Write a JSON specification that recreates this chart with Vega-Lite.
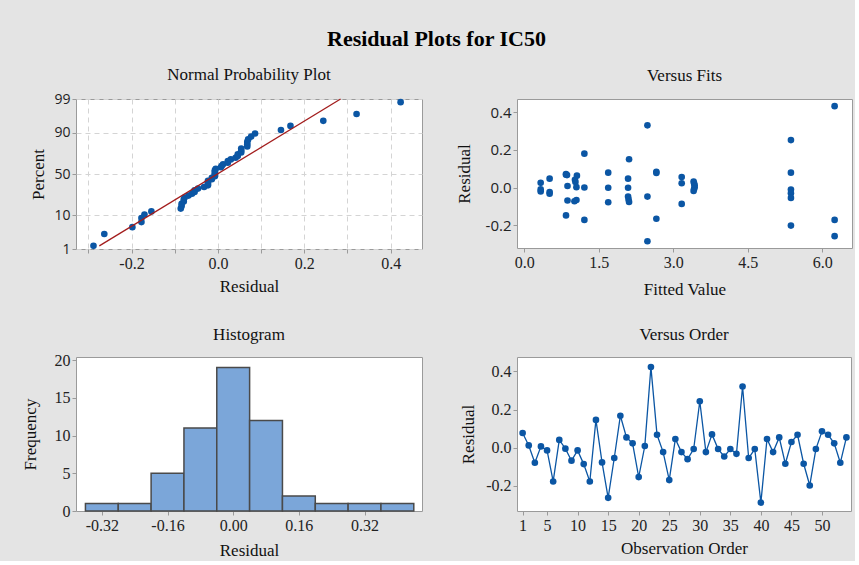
{
  "$schema": "https://vega.github.io/schema/vega-lite/v6.json",
  "background": "#e4e4e4",
  "padding": {"left": 20, "top": 28, "right": 2, "bottom": 2},
  "title": {"text": "Residual Plots for IC50", "font": "Liberation Serif", "fontSize": 22, "fontWeight": "bold", "anchor": "middle", "frame": "bounds", "color": "#000000", "offset": 14.5},
  "datasets": {
    "order": [
      {"obs": 1, "residual": 0.077}, {"obs": 2, "residual": 0.012}, {"obs": 3, "residual": -0.079}, {"obs": 4, "residual": 0.007},
      {"obs": 5, "residual": -0.014}, {"obs": 6, "residual": -0.177}, {"obs": 7, "residual": 0.041}, {"obs": 8, "residual": -0.005},
      {"obs": 9, "residual": -0.068}, {"obs": 10, "residual": -0.014}, {"obs": 11, "residual": -0.086}, {"obs": 12, "residual": -0.177},
      {"obs": 13, "residual": 0.146}, {"obs": 14, "residual": -0.077}, {"obs": 15, "residual": -0.263}, {"obs": 16, "residual": -0.054},
      {"obs": 17, "residual": 0.168}, {"obs": 18, "residual": 0.054}, {"obs": 19, "residual": 0.023}, {"obs": 20, "residual": -0.154},
      {"obs": 21, "residual": 0.009}, {"obs": 22, "residual": 0.423}, {"obs": 23, "residual": 0.068}, {"obs": 24, "residual": -0.023},
      {"obs": 25, "residual": -0.170}, {"obs": 26, "residual": 0.046}, {"obs": 27, "residual": -0.023}, {"obs": 28, "residual": -0.060},
      {"obs": 29, "residual": -0.007}, {"obs": 30, "residual": 0.244}, {"obs": 31, "residual": -0.023}, {"obs": 32, "residual": 0.070},
      {"obs": 33, "residual": -0.007}, {"obs": 34, "residual": -0.046}, {"obs": 35, "residual": -0.007}, {"obs": 36, "residual": -0.032},
      {"obs": 37, "residual": 0.321}, {"obs": 38, "residual": -0.054}, {"obs": 39, "residual": -0.007}, {"obs": 40, "residual": -0.288},
      {"obs": 41, "residual": 0.046}, {"obs": 42, "residual": -0.023}, {"obs": 43, "residual": 0.054}, {"obs": 44, "residual": -0.084},
      {"obs": 45, "residual": 0.030}, {"obs": 46, "residual": 0.068}, {"obs": 47, "residual": -0.084}, {"obs": 48, "residual": -0.198},
      {"obs": 49, "residual": -0.007}, {"obs": 50, "residual": 0.086}, {"obs": 51, "residual": 0.068}, {"obs": 52, "residual": 0.023},
      {"obs": 53, "residual": -0.079}, {"obs": 54, "residual": 0.054}
    ],
    "prob": [
      {"residual": -0.288, "z": -2.229}, {"residual": -0.263, "z": -1.8627}, {"residual": -0.198, "z": -1.6484}, {"residual": -0.177, "z": -1.4907},
      {"residual": -0.177, "z": -1.3633}, {"residual": -0.170, "z": -1.2548}, {"residual": -0.154, "z": -1.1593}, {"residual": -0.086, "z": -1.0734},
      {"residual": -0.084, "z": -0.9948}, {"residual": -0.084, "z": -0.9219}, {"residual": -0.079, "z": -0.8535}, {"residual": -0.079, "z": -0.7889},
      {"residual": -0.077, "z": -0.7275}, {"residual": -0.068, "z": -0.6687}, {"residual": -0.060, "z": -0.6122}, {"residual": -0.054, "z": -0.5575},
      {"residual": -0.054, "z": -0.5044}, {"residual": -0.046, "z": -0.4528}, {"residual": -0.032, "z": -0.4023}, {"residual": -0.023, "z": -0.3528},
      {"residual": -0.023, "z": -0.3041}, {"residual": -0.023, "z": -0.2562}, {"residual": -0.023, "z": -0.2088}, {"residual": -0.014, "z": -0.1620},
      {"residual": -0.014, "z": -0.1154}, {"residual": -0.007, "z": -0.0692}, {"residual": -0.007, "z": -0.0230}, {"residual": -0.007, "z": 0.0230},
      {"residual": -0.007, "z": 0.0692}, {"residual": -0.007, "z": 0.1154}, {"residual": -0.005, "z": 0.1620}, {"residual": 0.007, "z": 0.2088},
      {"residual": 0.009, "z": 0.2562}, {"residual": 0.012, "z": 0.3041}, {"residual": 0.023, "z": 0.3528}, {"residual": 0.023, "z": 0.4023},
      {"residual": 0.030, "z": 0.4528}, {"residual": 0.041, "z": 0.5044}, {"residual": 0.046, "z": 0.5575}, {"residual": 0.046, "z": 0.6122},
      {"residual": 0.054, "z": 0.6687}, {"residual": 0.054, "z": 0.7275}, {"residual": 0.054, "z": 0.7889}, {"residual": 0.068, "z": 0.8535},
      {"residual": 0.068, "z": 0.9219}, {"residual": 0.068, "z": 0.9948}, {"residual": 0.070, "z": 1.0734}, {"residual": 0.077, "z": 1.1593},
      {"residual": 0.086, "z": 1.2548}, {"residual": 0.146, "z": 1.3633}, {"residual": 0.168, "z": 1.4907}, {"residual": 0.244, "z": 1.6484},
      {"residual": 0.321, "z": 1.8627}, {"residual": 0.423, "z": 2.229}
    ],
    "fitline": [
      {"residual": -0.2745, "z": -2.229}, {"residual": 0.284, "z": 2.3263}
    ],
    "fits": [
      {"fitted": 0.33, "residual": 0.025}, {"fitted": 0.33, "residual": -0.010}, {"fitted": 0.33, "residual": -0.021},
      {"fitted": 0.51, "residual": 0.047}, {"fitted": 0.51, "residual": -0.024}, {"fitted": 0.51, "residual": -0.033},
      {"fitted": 0.84, "residual": 0.072}, {"fitted": 0.86, "residual": 0.066}, {"fitted": 0.87, "residual": 0.008},
      {"fitted": 0.87, "residual": -0.069}, {"fitted": 0.84, "residual": -0.148}, {"fitted": 0.84, "residual": 0.068},
      {"fitted": 1.06, "residual": 0.063}, {"fitted": 1.02, "residual": 0.041}, {"fitted": 1.03, "residual": 0.029},
      {"fitted": 1.05, "residual": 0.002}, {"fitted": 1.05, "residual": -0.066}, {"fitted": 1.01, "residual": -0.073},
      {"fitted": 1.21, "residual": 0.180}, {"fitted": 1.21, "residual": 0.000}, {"fitted": 1.21, "residual": -0.172},
      {"fitted": 1.69, "residual": 0.079}, {"fitted": 1.69, "residual": -0.001}, {"fitted": 1.69, "residual": -0.078},
      {"fitted": 2.11, "residual": 0.150}, {"fitted": 2.09, "residual": 0.047}, {"fitted": 2.09, "residual": -0.001},
      {"fitted": 2.09, "residual": -0.048}, {"fitted": 2.10, "residual": -0.063}, {"fitted": 2.11, "residual": -0.077},
      {"fitted": 2.48, "residual": 0.330}, {"fitted": 2.48, "residual": -0.048}, {"fitted": 2.48, "residual": -0.285},
      {"fitted": 2.66, "residual": 0.084}, {"fitted": 2.66, "residual": 0.077}, {"fitted": 2.66, "residual": -0.166},
      {"fitted": 3.17, "residual": 0.056}, {"fitted": 3.17, "residual": 0.023}, {"fitted": 3.17, "residual": -0.087},
      {"fitted": 3.41, "residual": 0.032}, {"fitted": 3.42, "residual": 0.022}, {"fitted": 3.43, "residual": 0.012},
      {"fitted": 3.43, "residual": 0.002}, {"fitted": 3.42, "residual": -0.008}, {"fitted": 3.41, "residual": -0.018},
      {"fitted": 5.37, "residual": 0.252}, {"fitted": 5.37, "residual": 0.079}, {"fitted": 5.37, "residual": -0.011},
      {"fitted": 5.37, "residual": -0.030}, {"fitted": 5.37, "residual": -0.055}, {"fitted": 5.37, "residual": -0.202},
      {"fitted": 6.25, "residual": 0.432}, {"fitted": 6.25, "residual": -0.172}, {"fitted": 6.25, "residual": -0.258}
    ],
    "hist": [
      {"bin_start": -0.36, "bin_end": -0.28, "count": 1},
      {"bin_start": -0.28, "bin_end": -0.20, "count": 1},
      {"bin_start": -0.20, "bin_end": -0.12, "count": 5},
      {"bin_start": -0.12, "bin_end": -0.04, "count": 11},
      {"bin_start": -0.04, "bin_end": 0.04, "count": 19},
      {"bin_start": 0.04, "bin_end": 0.12, "count": 12},
      {"bin_start": 0.12, "bin_end": 0.20, "count": 2},
      {"bin_start": 0.20, "bin_end": 0.28, "count": 1},
      {"bin_start": 0.28, "bin_end": 0.36, "count": 1},
      {"bin_start": 0.36, "bin_end": 0.44, "count": 1}
    ]
  },
  "bounds": "flush",
  "columns": 2,
  "spacing": {"row": 108, "column": 95},
  "concat": [
    {
      "width": 346, "height": 150,
      "title": {"text": "Normal Probability Plot", "offset": 8},
      "layer": [
        {
          "data": {"name": "prob"},
          "mark": {"type": "point", "filled": true, "size": 44, "color": "#0b56a4", "opacity": 1},
          "encoding": {
            "x": {"field": "residual", "type": "quantitative", "scale": {"domain": [-0.3285, 0.4725], "nice": false, "zero": false},
              "axis": {"title": "Residual", "values": [-0.3, -0.2, -0.1, 0, 0.1, 0.2, 0.3, 0.4], "tickCount": 20, "labelExpr": "abs(round(datum.value*10))%2==0 ? format(datum.value, '.1f') : ''", "grid": true, "titleY": 37}},
            "y": {"field": "z", "type": "quantitative", "scale": {"domain": [-2.3263, 2.3263], "nice": false, "zero": false},
              "axis": {"title": "Percent", "values": [-2.3263, -1.2816, 0, 1.2816, 2.3263], "tickCount": 20, "labelExpr": "datum.value < -2 ? '1' : datum.value < -1 ? '10' : datum.value < 1 ? '50' : datum.value < 2 ? '90' : '99'", "grid": true, "labelFont": "Open Sans", "labelFontSize": 14, "titleX": -38}}
          }
        },
        {
          "data": {"name": "fitline"},
          "mark": {"type": "line", "color": "#a31d1d", "strokeWidth": 1.3},
          "encoding": {
            "x": {"field": "residual", "type": "quantitative"},
            "y": {"field": "z", "type": "quantitative"}
          }
        }
      ]
    },
    {
      "width": 335, "height": 149,
      "title": {"text": "Versus Fits", "offset": 14},
      "layer": [
        {
          "mark": {"type": "rule", "strokeDash": [6, 4], "color": "#a8a8a8", "strokeWidth": 1.6},
          "encoding": {"y": {"datum": 0, "type": "quantitative"}}
        },
        {
          "data": {"name": "fits"},
          "mark": {"type": "point", "filled": true, "size": 44, "color": "#0b56a4", "opacity": 1},
          "encoding": {
            "x": {"field": "fitted", "type": "quantitative", "scale": {"domain": [-0.147, 6.6], "nice": false, "zero": false},
              "axis": {"title": "Fitted Value", "values": [0, 1.5, 3, 4.5, 6], "tickCount": 20, "format": ".1f", "titleY": 41}},
            "y": {"field": "residual", "type": "quantitative", "scale": {"domain": [-0.321, 0.47], "nice": false, "zero": false},
              "axis": {"title": "Residual", "values": [-0.2, 0, 0.2, 0.4], "tickCount": 20, "format": ".1f", "labelFont": "Open Sans", "labelFontSize": 15, "titleX": -53}}
          }
        }
      ]
    },
    {
      "width": 346, "height": 154,
      "title": {"text": "Histogram", "offset": 8},
      "data": {"name": "hist"},
      "mark": {"type": "rect", "fill": "#7ba6d9", "stroke": "#4a4a4a", "strokeWidth": 1.5, "opacity": 1},
      "encoding": {
        "x": {"field": "bin_start", "type": "quantitative", "scale": {"domain": [-0.383, 0.46], "nice": false, "zero": false},
          "axis": {"title": "Residual", "values": [-0.32, -0.16, 0, 0.16, 0.32], "tickCount": 20, "format": ".2f", "titleY": 39}},
        "x2": {"field": "bin_end"},
        "y": {"field": "count", "type": "quantitative", "scale": {"domain": [0, 20.4], "nice": false},
          "axis": {"title": "Frequency", "values": [0, 5, 10, 15, 20], "tickCount": 20, "titleX": -46}},
        "y2": {"datum": 0}
      }
    },
    {
      "width": 334, "height": 154,
      "title": {"text": "Versus Order", "offset": 13},
      "layer": [
        {
          "mark": {"type": "rule", "strokeDash": [6, 4], "color": "#a8a8a8", "strokeWidth": 1.6},
          "encoding": {"y": {"datum": 0, "type": "quantitative"}}
        },
        {
          "data": {"name": "order"},
          "mark": {"type": "line", "color": "#0b56a4", "strokeWidth": 1.3, "point": {"filled": true, "size": 44, "color": "#0b56a4", "opacity": 1}},
          "encoding": {
            "x": {"field": "obs", "type": "quantitative", "scale": {"domain": [0.08, 54.75], "nice": false, "zero": false},
              "axis": {"title": "Observation Order", "values": [1, 5, 10, 15, 20, 25, 30, 35, 40, 45, 50], "tickCount": 20, "format": "d", "titleY": 37}},
            "y": {"field": "residual", "type": "quantitative", "scale": {"domain": [-0.332, 0.476], "nice": false, "zero": false},
              "axis": {"title": "Residual", "values": [-0.2, 0, 0.2, 0.4], "tickCount": 20, "format": ".1f", "titleX": -49}}
          }
        }
      ]
    }
  ],
  "config": {
    "locale": {"number": {"decimal": ".", "thousands": ",", "grouping": [3], "currency": ["$", ""], "minus": "-"}},
    "view": {"fill": "white", "stroke": "#9a9a9a", "strokeWidth": 1},
    "title": {"font": "Liberation Serif", "fontSize": 17, "fontWeight": "normal", "color": "#111111", "offset": 14},
    "axis": {
      "domain": false,
      "grid": false,
      "gridColor": "#d4d4d4",
      "gridDash": [5, 4],
      "gridWidth": 1,
      "ticks": true,
      "tickColor": "#9a9a9a",
      "tickSize": 4,
      "labelPadding": 2,
      "labelFont": "Liberation Serif",
      "labelFontSize": 16,
      "labelColor": "#222222",
      "titleFont": "Liberation Serif",
      "titleFontSize": 17,
      "titleFontWeight": "normal",
      "titleColor": "#111111",
      "titleBaseline": "middle",
      "labelOverlap": false,
      "labelFlush": false
    }
  }
}
